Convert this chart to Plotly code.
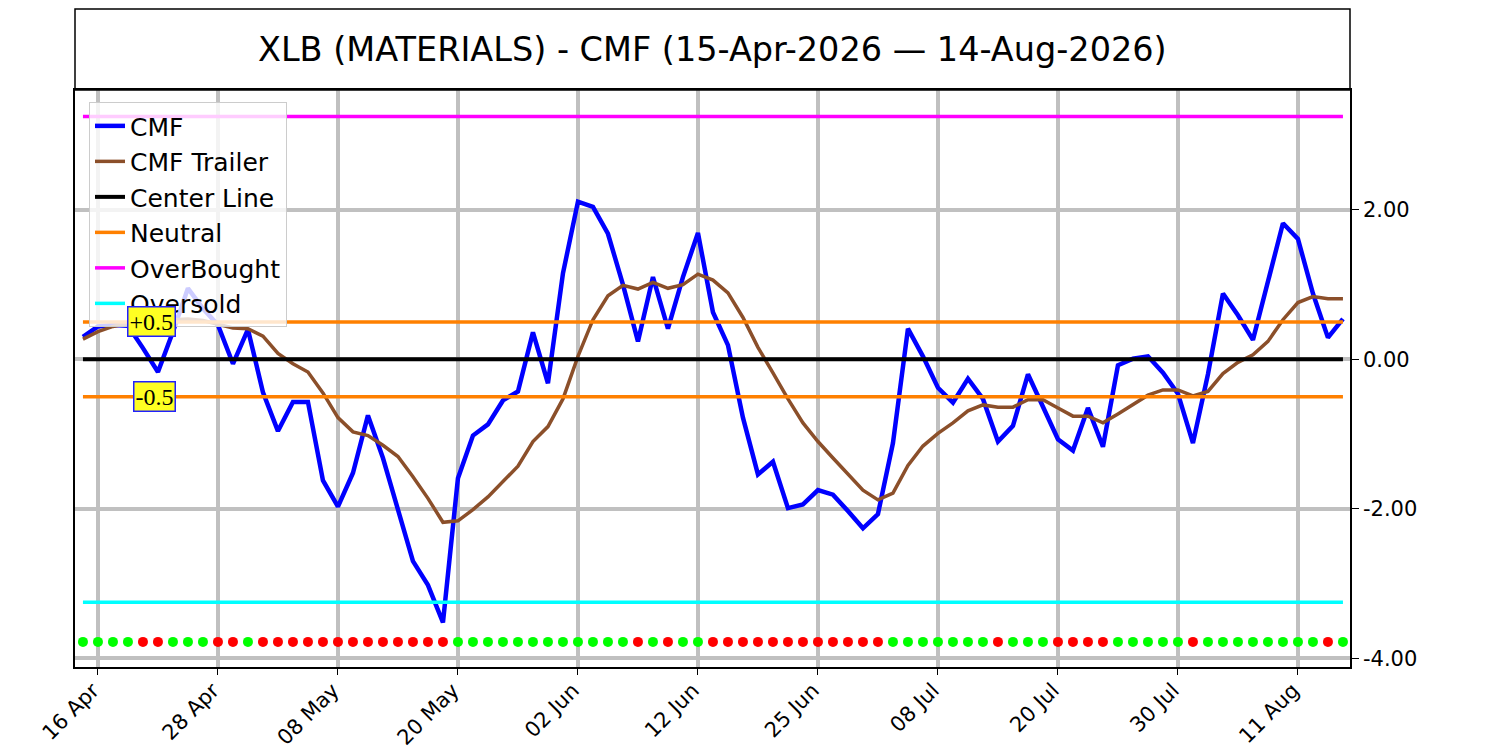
import pandas as pd
import plotly.graph_objects as go

# trading days 15-Apr-2026 .. 14-Aug-2026 (NYSE holidays skipped)
holidays = ['2026-05-25', '2026-06-19', '2026-07-03']
dates = pd.bdate_range('2026-04-15', '2026-08-14', freq='C', holidays=holidays)

cmf = [0.30, 0.44, 0.46, 0.45, 0.15, -0.17, 0.37, 0.95, 0.68, 0.46,
       -0.06, 0.40, -0.44, -0.96, -0.57, -0.57, -1.62, -1.97, -1.52, -0.75,
       -1.32, -2.00, -2.70, -3.02, -3.52, -1.59, -1.02, -0.87, -0.55, -0.43,
       0.36, -0.32, 1.15, 2.11, 2.04, 1.68, 1.00, 0.24, 1.10, 0.41,
       1.10, 1.69, 0.63, 0.19, -0.78, -1.54, -1.37, -1.99, -1.94, -1.75,
       -1.81, -2.03, -2.26, -2.07, -1.12, 0.41, 0.04, -0.38, -0.58, -0.26,
       -0.53, -1.10, -0.89, -0.20, -0.63, -1.07, -1.22, -0.65, -1.17, -0.08,
       0.01, 0.04, -0.18, -0.46, -1.12, -0.20, 0.88, 0.59, 0.26, 1.06,
       1.82, 1.61, 0.88, 0.29, 0.54]

cmf_trailer = [0.27, 0.37, 0.44, 0.48, 0.50, 0.52, 0.53, 0.54, 0.52, 0.47,
               0.42, 0.41, 0.31, 0.08, -0.06, -0.17, -0.45, -0.78, -0.97, -1.02,
               -1.15, -1.30, -1.57, -1.86, -2.18, -2.16, -2.01, -1.84, -1.64, -1.43,
               -1.10, -0.90, -0.53, 0.04, 0.53, 0.85, 0.99, 0.94, 1.03, 0.95,
               1.00, 1.14, 1.06, 0.89, 0.56, 0.16, -0.18, -0.53, -0.85, -1.10,
               -1.32, -1.54, -1.75, -1.88, -1.79, -1.42, -1.16, -0.99, -0.85, -0.69,
               -0.61, -0.64, -0.64, -0.54, -0.54, -0.65, -0.76, -0.76, -0.85, -0.73,
               -0.60, -0.48, -0.41, -0.41, -0.49, -0.43, -0.19, -0.04, 0.06, 0.24,
               0.53, 0.76, 0.84, 0.81, 0.81]

# signal dots along the bottom: G = green, R = red
signal = ('GGGGRRGGGRRG' + 'R' * 13 + 'G' * 12 + 'RGRGG' + 'R' * 12 +
          'G' * 7 + 'RGGG' + 'RRRR' + 'GGGGG' + 'R' + 'G' * 8 + 'RG')

center_level = 0.0
neutral_level = 0.5
overbought_level = 3.25
oversold_level = -3.25
signal_level = -3.78

y_ticks = [-4, -2, 0, 2]
y_tick_text = ['-4.00', '-2.00', '0.00', '2.00']

x = list(range(len(dates)))
tick_idx = list(range(1, len(dates), 8))
tick_labels = [dates[i].strftime('%d %b') for i in tick_idx]

font = 'DejaVu Sans'
fig = go.Figure()

fig.add_trace(go.Scatter(x=x, y=cmf, mode='lines', name='CMF',
                         line=dict(color='#0000ff', width=4.5)))
fig.add_trace(go.Scatter(x=x, y=cmf_trailer, mode='lines', name='CMF Trailer',
                         line=dict(color='#8b4f2a', width=3.5)))
fig.add_trace(go.Scatter(x=[x[0], x[-1]], y=[center_level] * 2, mode='lines',
                         name='Center Line', line=dict(color='black', width=4)))
fig.add_trace(go.Scatter(x=[x[0], x[-1], None, x[0], x[-1]],
                         y=[neutral_level, neutral_level, None, -neutral_level, -neutral_level],
                         mode='lines', name='Neutral',
                         line=dict(color='#ff8000', width=3.5)))
fig.add_trace(go.Scatter(x=[x[0], x[-1]], y=[overbought_level] * 2, mode='lines',
                         name='OverBought', line=dict(color='#ff00ff', width=3.5)))
fig.add_trace(go.Scatter(x=[x[0], x[-1]], y=[oversold_level] * 2, mode='lines',
                         name='Oversold', line=dict(color='#00ffff', width=3.5)))
fig.add_trace(go.Scatter(x=x, y=[signal_level] * len(x), mode='markers',
                         showlegend=False,
                         marker=dict(size=10, color=['#00ff00' if s == 'G' else '#ff0000' for s in signal])))

# +0.5 / -0.5 labels
for lvl, txt in [(neutral_level, '+0.5'), (-neutral_level, '-0.5')]:
    fig.add_annotation(x=6.2, y=lvl, text=txt, showarrow=False, xanchor='right',
                       yanchor='middle',
                       font=dict(family='Liberation Serif', size=24, color='black'),
                       bgcolor='#ffff22', bordercolor='#2020ff', borderwidth=1.5,
                       borderpad=1)

# title box
fig.add_shape(type='rect', xref='paper', yref='paper', x0=0, x1=1, y0=1, y1=1.1404,
              line=dict(color='black', width=1.5))
fig.add_annotation(xref='paper', yref='paper', x=0.5, y=1.071, showarrow=False,
                   xanchor='center', yanchor='middle',
                   text='XLB (MATERIALS) - CMF (15-Apr-2026 \u2014 14-Aug-2026)',
                   font=dict(family=font, size=33.5, color='black'))

# page body adds ~8px offset, so the figure is shifted by that much
fig.update_layout(
    width=1492, height=760,
    margin=dict(l=67, r=150, t=82, b=101, autoexpand=False),
    plot_bgcolor='white', paper_bgcolor='white',
    font=dict(family=font, size=20, color='black'),
    legend=dict(x=0.011, y=0.979, xanchor='left', yanchor='top', itemwidth=30,
                bgcolor='rgba(255,255,255,0.8)', bordercolor='#cccccc', borderwidth=1,
                font=dict(family=font, size=25, color='black')),
)
fig.update_xaxes(range=[-0.53, 84.47], tickvals=tick_idx, ticktext=tick_labels,
                 tickangle=-45, ticks='outside', ticklen=6, tickcolor='black',
                 ticklabelstandoff=-5, ticklabelshift=-5,
                 showgrid=True, gridcolor='#c0c0c0', gridwidth=4, automargin=False,
                 showline=True, linecolor='black', linewidth=1.5, mirror=True,
                 zeroline=False, tickfont=dict(size=21))
fig.update_yaxes(range=[-4.116, 3.603], side='right', tickvals=y_ticks,
                 ticktext=y_tick_text, ticks='outside', ticklen=7, tickcolor='black',
                 showgrid=True, gridcolor='#c0c0c0', gridwidth=4, automargin=False,
                 showline=True, linecolor='black', linewidth=1.5, mirror=True,
                 zeroline=False, tickfont=dict(size=21))

fig.write_html('out.html')
